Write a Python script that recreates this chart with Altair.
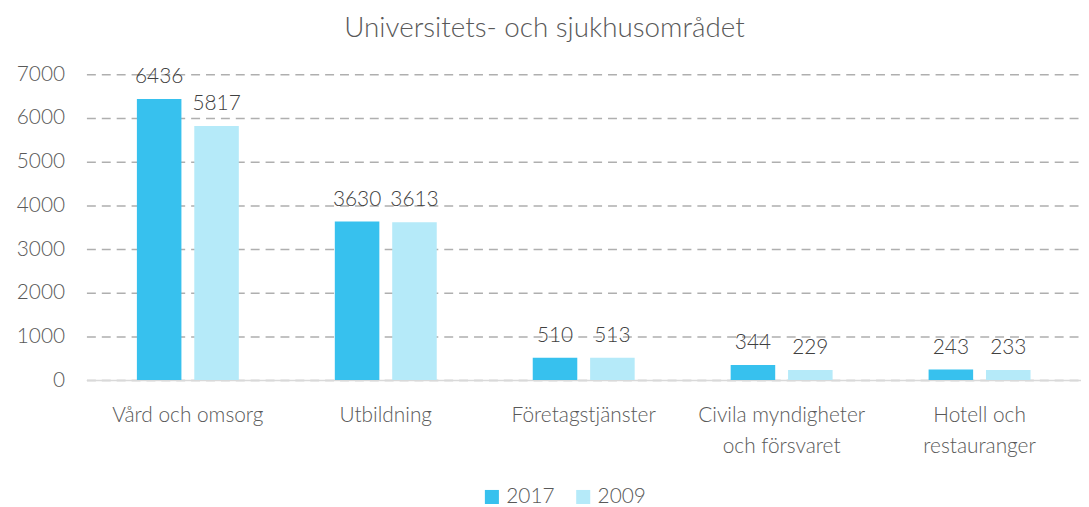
import altair as alt
import pandas as pd

categories = ["Vård och omsorg", "Utbildning", "Företagstjänster",
              "Civila myndigheter\noch försvaret", "Hotell och\nrestauranger"]
years = ["2017", "2009"]
values_2017 = [6436, 3630, 510, 344, 243]
values_2009 = [5817, 3613, 513, 229, 233]
y_ticks = [0, 1000, 2000, 3000, 4000, 5000, 6000, 7000]
title_text = "Universitets- och sjukhusområdet"

rows = []
for c, a, b in zip(categories, values_2017, values_2009):
    rows.append({"cat": c, "year": "2017", "value": a})
    rows.append({"cat": c, "year": "2009", "value": b})
df = pd.DataFrame(rows)

FONT = "Lato"
W = 300
colors = ["#37C1EE", "#B5EAF9"]

x = alt.X("cat:N", sort=categories, title=None,
          scale=alt.Scale(paddingInner=0.485, paddingOuter=0.255),
          axis=alt.Axis(labelAngle=0, labelExpr="split(datum.label, '\\n')",
                        labelFont=FONT, labelFontSize=21, labelFontWeight=W,
                        labelColor="#595959",
                        labelPadding=25, labelLineHeight=31, ticks=False,
                        domainColor="#D9D9D9", domainWidth=1.5, grid=False,
                        labelBaseline="top"))
xo = alt.XOffset("year:N", sort=years,
                 scale=alt.Scale(paddingInner=0.224, paddingOuter=0))

base = alt.Chart(df)

bars = base.mark_bar().encode(
    x=x, xOffset=xo,
    y=alt.Y("value:Q", title=None,
            scale=alt.Scale(domain=[0, 7000], nice=False),
            axis=alt.Axis(values=y_ticks, format="d", labelFont=FONT,
                          labelFontSize=21, labelFontWeight=W,
                          labelColor="#595959", labelPadding=22, ticks=False,
                          domain=False, gridDash=[9, 6], gridColor="#AFAFAF",
                          gridWidth=1.5, minExtent=79, maxExtent=79)),
    color=alt.Color("year:N", sort=years,
                    scale=alt.Scale(domain=years, range=colors),
                    legend=alt.Legend(orient="none", legendX=398, legendY=415,
                                      direction="horizontal", title=None,
                                      symbolType="square", symbolSize=200,
                                      labelFont=FONT, labelFontSize=21,
                                      labelFontWeight=W,
                                      labelColor="#595959",
                                      columnPadding=18, symbolStrokeWidth=0)),
)

labels = base.mark_text(baseline="alphabetic", dy=-16, font=FONT,
                        fontSize=21, fontWeight=W, color="#404040").encode(
    x=x, xOffset=xo,
    y=alt.Y("value:Q"),
    text=alt.Text("value:Q"),
)

chart = (bars + labels).properties(
    width=1002, height=308,
    padding={"left": 0, "top": 5, "right": 0, "bottom": 0},
    title=alt.TitleParams(title_text, font=FONT, fontSize=28, fontWeight=W,
                          color="#595959", offset=21, frame="bounds", anchor="middle"),
).configure_view(stroke=None)

chart.save("out.html", embed_options={"renderer": "svg", "actions": False})
